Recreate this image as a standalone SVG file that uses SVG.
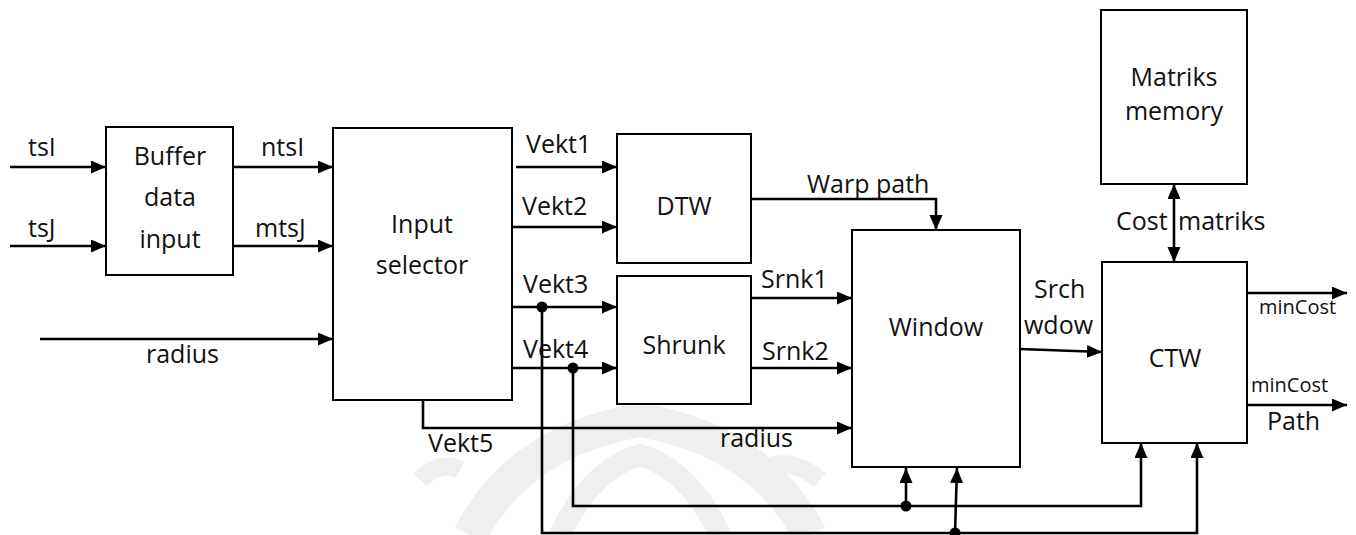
<svg xmlns="http://www.w3.org/2000/svg" width="1356" height="535" viewBox="0 0 1356 535">
<style>
.box{fill:#fff;stroke:#000;stroke-width:2}
.ln{fill:none;stroke:#000;stroke-width:2.6}
.t{font-family:"Open Sans","Noto Sans",sans-serif;font-size:25px;fill:#111}
.c{text-anchor:middle}
.s{font-size:20px}
.wm{fill:none;stroke:#efefef;stroke-linecap:butt}
</style>
<defs>
<marker id="ah" markerUnits="userSpaceOnUse" markerWidth="16" markerHeight="14" refX="15" refY="6.5" orient="auto-start-reverse">
<path d="M0,0 L15,6.5 L0,13 z" fill="#000"/>
</marker>
</defs>
<rect width="1356" height="535" fill="#fff"/>
<g id="watermark">
<path class="wm" d="M470,535 Q520,440 640,420 Q760,440 810,535" stroke-width="34"/>
<path class="wm" d="M560,535 Q590,470 640,455 Q690,470 720,535" stroke-width="22"/>
<path class="wm" d="M420,480 Q440,460 460,470" stroke-width="18"/>
<path class="wm" d="M760,470 Q790,455 820,480" stroke-width="18"/>
</g>
<g id="connectors">
<path class="ln" d="M10,167 H106" marker-end="url(#ah)"/>
<path class="ln" d="M10,246 H106" marker-end="url(#ah)"/>
<path class="ln" d="M233,167 H333" marker-end="url(#ah)"/>
<path class="ln" d="M233,246 H333" marker-end="url(#ah)"/>
<path class="ln" d="M40,339 H333" marker-end="url(#ah)"/>
<path class="ln" d="M516,167 H617" marker-end="url(#ah)"/>
<path class="ln" d="M512,227 H617" marker-end="url(#ah)"/>
<path class="ln" d="M512,307 H617" marker-end="url(#ah)"/>
<path class="ln" d="M512,368 H617" marker-end="url(#ah)"/>
<path class="ln" d="M751,199 H936 V230" marker-end="url(#ah)"/>
<path class="ln" d="M751,298 H852" marker-end="url(#ah)"/>
<path class="ln" d="M751,368 H852" marker-end="url(#ah)"/>
<path class="ln" d="M423,400 V428 H852" marker-end="url(#ah)"/>
<path class="ln" d="M1020,349 L1102,352" marker-end="url(#ah)"/>
<path class="ln" d="M1174,184 V262" marker-start="url(#ah)" marker-end="url(#ah)"/>
<path class="ln" d="M1247,293 H1347" marker-end="url(#ah)"/>
<path class="ln" d="M1247,405 H1347" marker-end="url(#ah)"/>
<path class="ln" d="M542,307 V533 H1197 V443" marker-end="url(#ah)"/>
<path class="ln" d="M573,368 V506 H1141 V443" marker-end="url(#ah)"/>
<path class="ln" d="M906,506 V468" marker-end="url(#ah)"/>
<path class="ln" d="M955,533 L957,468" marker-end="url(#ah)"/>
<circle cx="542" cy="307" r="5.5"/>
<circle cx="573" cy="368" r="5.5"/>
<circle cx="906" cy="506" r="5.5"/>
<circle cx="955" cy="533" r="5.5"/>
<text class="t" x="28" y="156">tsI</text>
<text class="t" x="28" y="237">tsJ</text>
<text class="t" x="261" y="156">ntsI</text>
<text class="t" x="255" y="237">mtsJ</text>
<text class="t" x="146" y="363">radius</text>
<text class="t" x="526" y="153">Vekt1</text>
<text class="t" x="522" y="215">Vekt2</text>
<text class="t" x="523" y="293">Vekt3</text>
<text class="t" x="523" y="358">Vekt4</text>
<text class="t" x="428" y="452">Vekt5</text>
<text class="t" x="807" y="193">Warp path</text>
<text class="t" x="761" y="288">Srnk1</text>
<text class="t" x="762" y="360">Srnk2</text>
<text class="t" x="720" y="447">radius</text>
<text class="t" x="1034" y="298">Srch</text>
<text class="t" x="1024" y="334">wdow</text>
<text class="t" y="230"><tspan x="1116">Cost</tspan><tspan x="1178">matriks</tspan></text>
<text class="t s" x="1259" y="314">minCost</text>
<text class="t s" x="1251" y="392">minCost</text>
<text class="t" x="1267" y="430">Path</text>
</g>
<g id="buffer">
<rect class="box" x="106" y="127" width="127" height="148"/>
<text class="t c" x="170" y="165">Buffer</text>
<text class="t c" x="170" y="206">data</text>
<text class="t c" x="170" y="248">input</text>
</g>
<g id="input-selector">
<rect class="box" x="333" y="128" width="179" height="272"/>
<text class="t c" x="422" y="233">Input</text>
<text class="t c" x="422" y="274">selector</text>
</g>
<g id="dtw">
<rect class="box" x="617" y="134" width="134" height="129"/>
<text class="t c" x="684" y="215">DTW</text>
</g>
<g id="shrunk">
<rect class="box" x="617" y="276" width="134" height="128"/>
<text class="t c" x="684" y="354">Shrunk</text>
</g>
<g id="window">
<rect class="box" x="852" y="230" width="168" height="237"/>
<text class="t c" x="936" y="336">Window</text>
</g>
<g id="ctw">
<rect class="box" x="1102" y="262" width="145" height="181"/>
<text class="t c" x="1175" y="367">CTW</text>
</g>
<g id="matriks-memory">
<rect class="box" x="1101" y="10" width="146" height="174"/>
<text class="t c" x="1174" y="86">Matriks</text>
<text class="t c" x="1174" y="120">memory</text>
</g>
</svg>
